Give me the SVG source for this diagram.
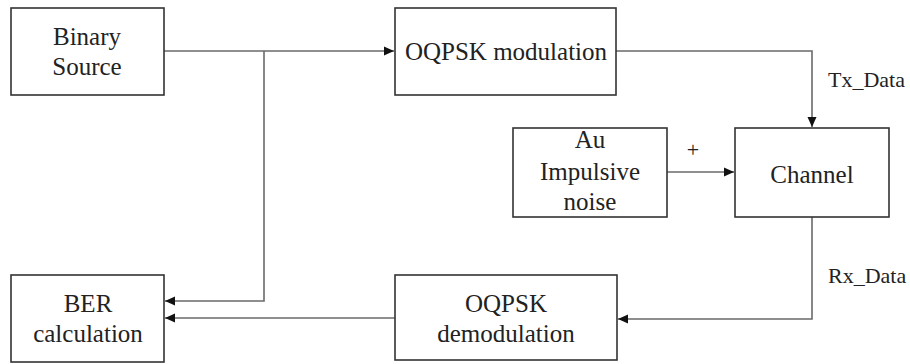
<svg xmlns="http://www.w3.org/2000/svg" width="910" height="364" viewBox="0 0 910 364">
<style>
.box{fill:#fff;stroke:#333;stroke-width:1.6}
text{font-family:"Liberation Serif","Times New Roman",serif;fill:#222}
.lbl{font-size:25px;text-anchor:middle}
.small{font-size:22px}
.c{fill:none;stroke:#6a6a6a;stroke-width:1.6}
</style>
<defs>
<marker id="ah" viewBox="0 0 10 10" refX="10" refY="5" markerWidth="10" markerHeight="10" markerUnits="userSpaceOnUse" orient="auto">
<path d="M0,0.5 L10,5 L0,9.5 Z" fill="#111"/>
</marker>
</defs>
<rect width="910" height="364" fill="#fff"/>
<g id="connectors">
<path class="c" d="M164,51 H394" marker-end="url(#ah)"/>
<path class="c" d="M264,51 V301 H165" marker-end="url(#ah)"/>
<path class="c" d="M616,51 H812 V127" marker-end="url(#ah)"/>
<path class="c" d="M667,172 H734" marker-end="url(#ah)"/>
<path class="c" d="M812,217 V319 H618" marker-end="url(#ah)"/>
<path class="c" d="M395,318 H165" marker-end="url(#ah)"/>
<text class="small" x="828" y="87">Tx_Data</text>
<text class="small" x="828" y="283">Rx_Data</text>
<text class="small" x="693" y="157" text-anchor="middle">+</text>
</g>
<g id="binary-source">
<rect class="box" x="11" y="8" width="153" height="87"/>
<text class="lbl" x="87" y="45">Binary</text>
<text class="lbl" x="87" y="75">Source</text>
</g>
<g id="oqpsk-mod">
<rect class="box" x="395" y="8" width="221" height="87"/>
<text class="lbl" x="506" y="60">OQPSK modulation</text>
</g>
<g id="au-noise">
<rect class="box" x="513" y="128" width="154" height="89"/>
<text class="lbl" x="590" y="148">Au</text>
<text class="lbl" x="590" y="180">Impulsive</text>
<text class="lbl" x="590" y="210">noise</text>
</g>
<g id="channel">
<rect class="box" x="735" y="128" width="154" height="89"/>
<text class="lbl" x="812" y="183">Channel</text>
</g>
<g id="oqpsk-demod">
<rect class="box" x="395" y="275" width="222" height="85"/>
<text class="lbl" x="506" y="312">OQPSK</text>
<text class="lbl" x="506" y="342">demodulation</text>
</g>
<g id="ber">
<rect class="box" x="11" y="275" width="153" height="87"/>
<text class="lbl" x="88" y="312">BER</text>
<text class="lbl" x="88" y="342">calculation</text>
</g>
</svg>
